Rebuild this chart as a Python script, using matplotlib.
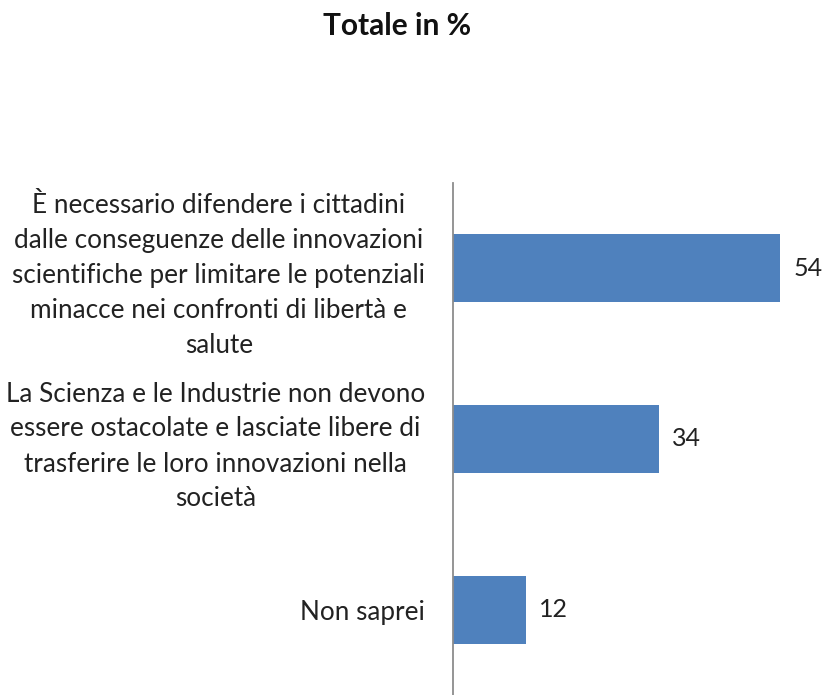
import matplotlib
matplotlib.use('Agg')

import matplotlib.pyplot as plt

# data
categories = [
    "È necessario difendere i cittadini\ndalle conseguenze delle innovazioni\nscientifiche per limitare le potenziali\nminacce nei confronti di libertà e\nsalute",
    "La Scienza e le Industrie non devono\nessere ostacolate e lasciate libere di\ntrasferire le loro innovazioni nella\nsocietà",
    "Non saprei",
]
values = [54, 34, 12]

plt.rcParams['font.family'] = ['Lato', 'DejaVu Sans']

fig = plt.figure(figsize=(8.25, 6.95), dpi=100)
ax = fig.add_axes([453 / 825, 0.0, 1 - 453 / 825 - 0.01, 1 - 183 / 695])

pos = list(range(len(categories)))
bars = ax.barh(pos, values, height=0.40, color='#4F81BD')

ax.set_ylim(len(categories) - 0.5, -0.5)
ax.set_xlim(0, 60)

for b, v in zip(bars, values):
    ax.text(b.get_width() + 2.2, b.get_y() + b.get_height() / 2, str(v),
            va='center', ha='left', fontsize=18, color='#222222')

ax.set_yticks(pos)
ax.set_yticklabels(categories, fontsize=18.8, color='#222222',
                   multialignment='center', linespacing=1.5)
ax.tick_params(axis='y', length=0, pad=20)
ax.set_xticks([])

for side in ['top', 'right', 'bottom']:
    ax.spines[side].set_visible(False)
ax.spines['left'].set_color('#8C8C8C')
ax.spines['left'].set_linewidth(1.3)

fig.text(397 / 825, 1 - 26 / 695, "Totale in %", ha='center', va='center',
         fontsize=21.5, fontweight='bold', color='#111111')

fig.savefig('out.png', dpi=100)
plt.close(fig)
